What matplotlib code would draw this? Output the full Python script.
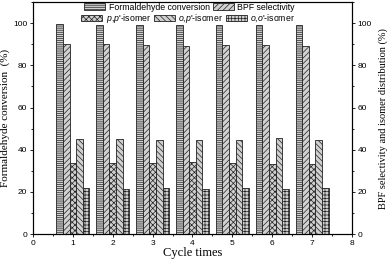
import numpy as np
import matplotlib
matplotlib.use("Agg")
import matplotlib.pyplot as plt
from matplotlib.ticker import MultipleLocator

cycles = [1, 2, 3, 4, 5, 6, 7]
conversion = [99.6, 99.3, 99.3, 99.3, 99.3, 99.3, 99.3]
selectivity = [90.0, 90.0, 89.8, 89.3, 89.5, 89.6, 89.3]
pp_isomer = [33.5, 33.8, 33.5, 34.0, 33.8, 33.2, 33.4]
op_isomer = [45.0, 45.3, 44.8, 44.7, 44.4, 45.5, 44.8]
oo_isomer = [21.9, 21.4, 21.9, 21.6, 21.9, 21.6, 22.1]

series = [
    ("Formaldehyde conversion", conversion, "--------"),
    ("BPF selectivity", selectivity, "//////"),
    (r"$\it{p{,}p}$'-isomer", pp_isomer, "xxxxxx"),
    (r"$\it{o{,}p}$'-isomer", op_isomer, "\\\\\\\\\\\\"),
    (r"$\it{o{,}o}$'-isomer", oo_isomer, "+++++"),
]

SANS = "Liberation Sans"
SERIF = "Liberation Serif"
plt.rcParams["hatch.linewidth"] = 0.5
plt.rcParams["font.family"] = SANS
plt.rcParams["mathtext.fontset"] = "custom"
plt.rcParams["mathtext.it"] = "Liberation Sans:italic"
plt.rcParams["mathtext.rm"] = "Liberation Sans"

fig = plt.figure(figsize=(3.92, 2.61), dpi=100)
ax = fig.add_axes([0.084, 0.103, 0.814, 0.889])

x = np.array(cycles)
bw = 0.166
handles = []
for i, (lab, vals, h) in enumerate(series):
    b = ax.bar(x + (i - 2) * bw, vals, bw, facecolor="#d0d0d0", edgecolor="#222222",
               hatch=h, lw=0.6, label=lab)
    handles.append(b)

ax.set_xlim(0, 8); ax.set_ylim(0, 110)
ax.xaxis.set_major_locator(MultipleLocator(1)); ax.xaxis.set_minor_locator(MultipleLocator(0.5))
ax.set_yticks([0, 20, 40, 60, 80, 100])
ax.yaxis.set_minor_locator(MultipleLocator(10))
ax.tick_params(labelsize=6, length=2.5, width=0.6, direction="out", pad=1.5)
ax.tick_params(which="minor", length=1.5, width=0.6)
for s in ax.spines.values():
    s.set_linewidth(0.8)

axr = ax.twinx()
axr.set_ylim(0, 110)
axr.set_yticks([0, 20, 40, 60, 80, 100])
axr.yaxis.set_minor_locator(MultipleLocator(10))
axr.tick_params(labelsize=6, length=2.5, width=0.6, direction="out", pad=1.5)
axr.tick_params(which="minor", length=1.5, width=0.6)

ax.set_xlabel("Cycle times", family=SERIF, fontsize=9, labelpad=0)
ax.set_ylabel("Formaldehyde conversion  (%)", family=SERIF, fontsize=8, labelpad=2)
axr.set_ylabel("BPF selectivity and isomer distribution (%)", family=SERIF, fontsize=7.5,
               labelpad=5)

leg1 = ax.legend(handles[:2], [s[0] for s in series[:2]], ncol=2, loc="upper left",
                 bbox_to_anchor=(0.145, 1.02), frameon=False, fontsize=6.3,
                 handlelength=2.4, handleheight=0.8, columnspacing=0.3, handletextpad=0.4,
                 borderpad=0.1)
ax.add_artist(leg1)
ax.legend(handles[2:], [s[0] for s in series[2:]], ncol=3, loc="upper left",
          bbox_to_anchor=(0.135, 0.98), frameon=False, fontsize=6.3,
          handlelength=2.4, handleheight=0.8, columnspacing=0.3, handletextpad=0.4,
          borderpad=0.1)

fig.savefig("out.png", dpi=100)
